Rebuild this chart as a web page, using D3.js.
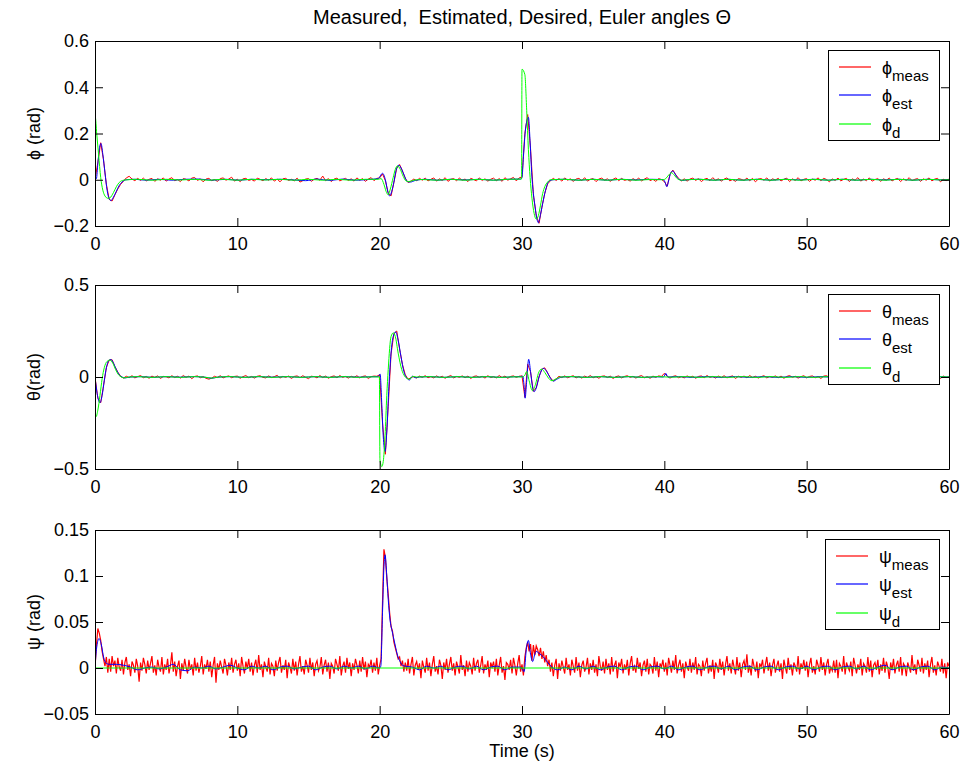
<!DOCTYPE html>
<html><head><meta charset="utf-8">
<script src="https://cdn.jsdelivr.net/npm/d3@7"></script>
<style>
body{margin:0;background:#fff;}
svg text{font-family:"Liberation Sans",Arial,Helvetica,sans-serif;fill:#000;}
</style></head><body>
<svg id="chart" width="964" height="769"></svg>
<script>
// ---------------- DATA ----------------
const timeTicks = [0, 10, 20, 30, 40, 50, 60];
const phiTicks = [-0.2, 0, 0.2, 0.4, 0.6];
const thetaTicks = [-0.5, 0, 0.5];
const psiTicks = [-0.05, 0, 0.05, 0.1, 0.15];
const legendSubs = ["meas", "est", "d"];
const titleText = "Measured,  Estimated, Desired, Euler angles \u0398";

// measured signals: sampled every phiMeasStep / thetaMeasStep / psiMeasStep seconds from t = 0
const phiMeasStep = 0.2;
const phiMeas = [
 0,0.075,0.16,0.085,-0.02,-0.085,-0.092,-0.065,-0.04,-0.02,
 -0.006,0.008,0.015,0.003,-0.004,0.006,-0.003,0.007,-0.005,0.002,
 0.006,-0.007,0.004,-0.002,0.008,-0.006,0.003,0.009,-0.004,0.001,
 -0.008,0.005,0.002,-0.005,0.007,0.01,-0.003,0.004,-0.009,0.003,
 0.006,-0.004,0.001,-0.007,0.005,0.008,-0.002,0.003,0.011,-0.006,
 0.002,-0.008,0.004,0.006,-0.003,0.001,-0.006,0.007,0.002,-0.004,
 0.005,-0.002,0.008,-0.006,0.003,-0.009,0.004,0.006,-0.003,0.002,
 -0.005,0.007,-0.01,-0.004,0.003,0.005,-0.007,0.002,0.006,-0.002,
 0.016,-0.004,0.005,-0.008,0.003,0.007,-0.005,0.001,0.006,-0.003,
 0.004,-0.006,0.008,-0.002,0.005,-0.007,0.003,0.009,-0.004,0.006,
 0.008,0.025,-0.004,-0.058,-0.07,-0.012,0.05,0.066,0.038,0.006,
 -0.012,-0.006,0.003,-0.004,0.006,-0.002,0.007,-0.005,0.002,0.008,
 -0.006,0.004,-0.003,0.009,-0.007,0.002,0.005,-0.004,0.007,-0.002,
 0.003,-0.008,0.006,0.001,-0.005,0.008,-0.003,0.004,-0.006,0.002,
 0.007,-0.004,0.005,-0.007,0.009,-0.002,0.004,0.01,-0.005,0.008,
 0.012,0.2,0.282,0.135,-0.065,-0.155,-0.188,-0.118,-0.058,-0.018,
 -0.004,0.006,-0.003,0.005,-0.006,0.008,-0.002,0.004,-0.007,0.003,
 0.006,-0.004,0.009,-0.006,0.002,0.005,-0.008,0.003,0.007,-0.002,
 0.004,-0.007,0.002,0.008,-0.004,0.006,-0.003,0.001,-0.006,0.005,
 -0.002,0.007,-0.005,0.003,0.009,-0.004,0.002,-0.007,0.005,0.001,
 -0.008,-0.028,0.024,0.042,0.022,0.006,-0.005,0.004,-0.006,0.003,
 0.007,-0.003,0.005,-0.008,0.002,0.006,-0.004,0.009,-0.002,0.004,
 -0.006,0.003,0.008,-0.005,0.001,-0.007,0.005,0.002,-0.003,0.007,
 -0.004,0.006,-0.009,0.003,0.005,-0.002,0.008,-0.006,0.004,-0.001,
 0.006,-0.005,0.002,0.007,-0.008,0.004,-0.003,0.009,-0.005,0.002,
 0.005,-0.007,0.003,-0.002,0.008,-0.004,0.006,0.001,-0.009,0.004,
 -0.003,0.007,-0.005,0.002,0.006,-0.008,0.004,-0.002,0.009,-0.006,
 0.003,-0.004,0.008,-0.006,0.001,0.005,-0.007,0.004,-0.002,0.007,
 -0.005,0.002,0.006,-0.008,0.004,-0.003,0.009,-0.004,0.002,0.005,
 -0.007,0.004,-0.002,0.008,-0.005,0.003,0.006,-0.009,0.002,-0.004,
 0.003
];
// estimated / desired: [time s, value rad]
const phiEst = [[0,0],[0.1,0.005],[0.2,0.07],[0.32,0.14],[0.42,0.157],[0.55,0.11],[0.7,0.03],[0.85,-0.045],[1.0,-0.083],[1.12,-0.09],[1.3,-0.075],[1.5,-0.05],[1.7,-0.025],[1.9,-0.01],[2.2,0],[2.8,0.002],[3.6,-0.002],[4.5,0.002],[5.4,-0.002],[6.3,0.002],[7.3,0.003],[8.2,-0.002],[9.2,0.002],[10.1,-0.002],[11.0,0.002],[12.0,0],[13.0,0.002],[14.0,-0.001],[14.8,-0.004],[15.6,0.003],[16.5,-0.003],[17.4,0.003],[18.3,-0.002],[19.2,0.001],[19.9,0.005],[20.2,0.028],[20.4,0],[20.55,-0.045],[20.7,-0.07],[20.85,-0.05],[21.0,-0.01],[21.15,0.04],[21.35,0.063],[21.55,0.045],[21.75,0.015],[21.95,-0.008],[22.15,-0.01],[22.5,-0.003],[23.2,0.002],[24.1,-0.002],[25.0,0.002],[26.0,-0.001],[27.0,0.002],[28.0,-0.002],[29.0,0.002],[29.9,0.003],[30.0,0.01],[30.1,0.1],[30.25,0.22],[30.45,0.27],[30.58,0.15],[30.68,0.03],[30.8,-0.06],[30.92,-0.117],[31.05,-0.17],[31.15,-0.186],[31.3,-0.15],[31.5,-0.088],[31.7,-0.035],[31.9,-0.005],[32.2,0],[33,0.002],[34,-0.002],[35,0.002],[36,-0.002],[37,0.002],[38,-0.001],[39,0.002],[39.9,0.001],[40.05,-0.01],[40.17,-0.03],[40.3,-0.005],[40.45,0.03],[40.6,0.038],[40.8,0.02],[41.0,0.003],[41.3,-0.003],[41.6,0],[42.5,0.002],[43.5,-0.002],[44.5,0.002],[45.5,-0.002],[46.5,0.002],[47.5,-0.002],[48.5,0.002],[49.5,-0.001],[50.5,0.002],[51.5,-0.002],[52.5,0.002],[53.5,-0.002],[54.5,0.002],[55.5,-0.001],[56.5,0.002],[57.5,-0.002],[58.5,0.002],[59.5,-0.001],[60,0]];
const phiD = [[0,0],[0.02,0.27],[0.12,0.2],[0.25,0.11],[0.4,0.01],[0.55,-0.045],[0.7,-0.07],[0.9,-0.08],[1.05,-0.078],[1.3,-0.055],[1.5,-0.03],[1.7,-0.012],[2.0,-0.002],[2.3,0],[3,0.002],[4,-0.002],[5,0.002],[6,-0.001],[7,0.002],[8,-0.002],[9,0.002],[10,-0.002],[11,0.002],[12,-0.001],[13,0.002],[14,-0.002],[15,0.002],[16,-0.002],[17,0.002],[18,-0.002],[19,0.002],[19.9,0.002],[20.1,0.005],[20.3,-0.02],[20.45,-0.05],[20.6,-0.065],[20.75,-0.04],[20.95,0.01],[21.1,0.045],[21.25,0.06],[21.45,0.045],[21.65,0.015],[21.85,-0.005],[22.05,-0.008],[22.4,-0.002],[23,0.001],[24,-0.002],[25,0.002],[26,-0.002],[27,0.002],[28,-0.002],[29,0.002],[29.97,0.003],[30.0,0.478],[30.2,0.455],[30.33,0.3],[30.45,0.13],[30.57,0.01],[30.7,-0.08],[30.85,-0.145],[31.0,-0.17],[31.15,-0.155],[31.3,-0.11],[31.45,-0.06],[31.6,-0.03],[31.8,-0.01],[32.0,0],[33,0.002],[34,-0.002],[35,0.002],[36,-0.002],[37,0.002],[38,-0.002],[39,0.001],[39.9,0],[40.1,0.005],[40.3,0.02],[40.5,0.03],[40.7,0.02],[40.9,0.005],[41.2,-0.002],[41.6,0],[42.5,0.002],[43.5,-0.002],[44.5,0.002],[45.5,-0.002],[46.5,0.002],[47.5,-0.002],[48.5,0.002],[49.5,-0.002],[50.5,0.002],[51.5,-0.002],[52.5,0.002],[53.5,-0.002],[54.5,0.002],[55.5,-0.002],[56.5,0.002],[57.5,-0.002],[58.5,0.002],[59.5,-0.001],[60,0]];

const thetaMeasStep = 0.2;
const thetaMeas = [
 0,-0.115,-0.14,-0.048,0.052,0.092,0.094,0.056,0.027,0.004,
 -0.006,0.004,-0.003,0.007,-0.005,0.002,0.008,-0.004,0.003,-0.007,
 0.005,-0.002,0.006,-0.008,0.003,0.001,-0.005,0.007,-0.003,0.004,
 -0.006,0.008,-0.002,0.005,-0.009,0.003,0.006,-0.004,0.002,-0.007,
 -0.012,-0.006,0.004,-0.003,0.007,-0.005,0.002,0.006,-0.004,0.003,
 0.005,-0.007,0.002,0.008,-0.004,0.003,-0.006,0.004,0.007,-0.002,
 -0.005,0.006,-0.003,0.002,0.009,-0.006,0.004,-0.002,0.005,-0.008,
 0.003,0.006,-0.004,0.007,-0.002,-0.009,0.004,0.002,-0.005,0.008,
 -0.003,0.005,-0.007,0.002,0.006,-0.004,0.008,-0.002,0.003,-0.006,
 0.004,-0.002,0.007,-0.005,0.003,0.006,-0.008,0.002,0.005,0.004,
 0.012,-0.25,-0.42,-0.16,0.125,0.235,0.25,0.152,0.068,0.012,
 -0.012,-0.004,0.003,-0.006,0.005,-0.002,0.007,-0.004,0.002,-0.005,
 0.006,-0.003,0.004,-0.007,0.002,0.008,-0.005,0.003,-0.002,0.006,
 -0.004,0.005,-0.008,0.003,0.006,-0.002,0.004,-0.006,0.007,-0.003,
 0.002,-0.005,0.008,-0.003,0.005,-0.007,0.003,0.006,-0.002,0.004,
 0.006,-0.11,0.07,0.028,-0.078,-0.058,0.004,0.042,0.05,0.022,
 -0.005,-0.022,-0.01,0.004,-0.003,0.006,-0.004,0.002,0.007,-0.005,
 0.003,-0.006,0.005,-0.002,0.008,-0.004,0.002,-0.007,0.004,0.006,
 -0.003,0.005,-0.008,0.002,0.006,-0.005,0.003,0.007,-0.002,0.004,
 -0.006,0.003,0.008,-0.004,0.002,-0.007,0.005,-0.002,0.006,0.003,
 0.02,0.004,-0.006,0.003,0.007,-0.004,0.002,-0.005,0.006,-0.002,
 0.004,-0.007,0.003,0.006,-0.004,0.008,-0.002,0.003,-0.006,0.005,
 -0.003,0.007,-0.005,0.002,0.006,-0.008,0.004,-0.002,0.005,-0.004,
 0.008,-0.003,0.004,-0.006,0.002,0.007,-0.005,0.003,-0.002,0.006,
 -0.004,0.005,-0.007,0.003,0.008,-0.002,0.004,-0.006,0.002,0.007,
 -0.005,0.003,0.006,-0.004,0.002,-0.008,0.005,0.007,-0.003,0.004,
 -0.006,0.002,0.008,-0.004,0.005,-0.002,0.006,-0.007,0.003,0.001,
 0.006,-0.005,0.003,0.007,-0.003,0.004,-0.008,0.002,0.006,-0.004,
 0.003,-0.006,0.007,-0.002,0.004,-0.005,0.008,-0.003,0.002,0.006,
 -0.004,0.005,-0.007,0.003,0.006,-0.002,0.004,-0.008,0.005,-0.003,
 0.002
];
const thetaEst = [[0,0],[0.15,-0.09],[0.35,-0.14],[0.5,-0.1],[0.65,-0.02],[0.8,0.05],[0.95,0.088],[1.12,0.095],[1.3,0.075],[1.5,0.04],[1.7,0.012],[1.9,0],[2.1,-0.005],[2.5,0],[3.2,0.002],[4.1,-0.002],[5.0,0.002],[6.0,-0.001],[7.0,0.002],[7.8,-0.002],[8.2,-0.007],[8.6,-0.001],[9.5,0.002],[10.5,-0.002],[11.5,0.002],[12.5,-0.001],[13.5,0.002],[14.5,-0.002],[15.5,0.002],[16.5,-0.002],[17.5,0.002],[18.5,-0.001],[19.4,0.001],[19.9,0.002],[20.03,0.016],[20.15,-0.15],[20.25,-0.32],[20.38,-0.405],[20.5,-0.3],[20.65,-0.05],[20.8,0.13],[20.95,0.22],[21.13,0.245],[21.3,0.2],[21.5,0.11],[21.7,0.03],[21.9,-0.005],[22.1,-0.016],[22.3,0.004],[22.5,-0.004],[22.8,0],[23.5,0.002],[24.5,-0.002],[25.5,0.002],[26.5,-0.002],[27.5,0.002],[28.5,-0.002],[29.4,0.001],[29.9,0.002],[30.05,0.005],[30.15,-0.05],[30.22,-0.115],[30.32,-0.03],[30.47,0.096],[30.6,0.03],[30.73,-0.05],[30.85,-0.08],[31.0,-0.06],[31.2,0],[31.5,0.047],[31.7,0.035],[31.95,0],[32.2,-0.022],[32.5,-0.01],[32.8,0],[33.5,0.002],[34.5,-0.002],[35.5,0.002],[36.5,-0.002],[37.5,0.002],[38.5,-0.002],[39.5,0.001],[39.95,0],[40.1,0.02],[40.25,0],[41,0.002],[42,-0.002],[43,0.002],[44,-0.002],[45,0.002],[46,-0.002],[47,0.002],[48,-0.002],[49,0.002],[50,-0.002],[51,0.002],[52,-0.002],[53,0.002],[54,-0.002],[55,0.002],[56,-0.002],[57,0.002],[58,-0.002],[59,0.002],[60,0]];
const thetaD = [[0,0],[0.03,-0.19],[0.08,-0.215],[0.2,-0.18],[0.35,-0.1],[0.5,-0.01],[0.65,0.05],[0.85,0.085],[1.05,0.092],[1.25,0.075],[1.45,0.04],[1.65,0.012],[1.85,0],[2.05,-0.005],[2.4,0],[3,0.002],[4,-0.002],[5,0.002],[6,-0.002],[7,0.002],[7.8,-0.002],[8.2,-0.006],[8.6,-0.001],[9.5,0.002],[10.5,-0.002],[11.5,0.002],[12.5,-0.002],[13.5,0.002],[14.5,-0.002],[15.5,0.002],[16.5,-0.002],[17.5,0.002],[18.5,-0.002],[19.5,0.001],[19.98,0],[20.02,-0.45],[20.15,-0.487],[20.25,-0.46],[20.38,-0.32],[20.5,-0.1],[20.6,0.04],[20.8,0.22],[20.96,0.24],[21.1,0.22],[21.3,0.13],[21.55,0.04],[21.75,0.005],[21.9,-0.007],[22.1,-0.012],[22.3,0.003],[22.6,0],[23.5,0.002],[24.5,-0.002],[25.5,0.002],[26.5,-0.002],[27.5,0.002],[28.5,-0.002],[29.5,0.001],[30.0,0],[30.2,0.01],[30.33,0.03],[30.5,-0.02],[30.73,-0.074],[30.95,-0.04],[31.15,0.02],[31.38,0.043],[31.6,0.025],[31.85,-0.005],[32.1,-0.02],[32.4,-0.01],[32.7,0],[33.5,0.002],[34.5,-0.002],[35.5,0.002],[36.5,-0.002],[37.5,0.002],[38.5,-0.002],[39.5,0.002],[40.5,-0.001],[41.5,0.002],[42.5,-0.002],[43.5,0.002],[44.5,-0.002],[45.5,0.002],[46.5,-0.002],[47.5,0.002],[48.5,-0.002],[49.5,0.002],[50.5,-0.002],[51.5,0.002],[52.5,-0.002],[53.5,0.002],[54.5,-0.002],[55.5,0.002],[56.5,-0.002],[57.5,0.002],[58.5,-0.002],[59.5,0.001],[60,0]];

const psiMeasStep = 0.1;
const psiMeas = [
 0,0.025,0.043,0.038,0.03,0.018,0.01,0.002,0.012,-0.005,
 0.01,-0.004,0.013,0.002,0.008,-0.006,0.011,0.001,-0.003,0.009,
 -0.007,0.006,0.012,-0.002,0.004,-0.009,0.007,0.003,-0.005,0.01,
 0.002,-0.015,0.006,-0.003,0.011,0.004,-0.006,0.008,-0.002,0.005,
 0.013,-0.005,0.003,-0.008,0.009,0.001,-0.004,0.012,-0.007,0.004,
 -0.002,0.01,-0.006,0.003,0.017,-0.004,0.007,-0.009,0.002,0.008,
 -0.012,0.005,-0.003,0.01,0.001,-0.006,0.009,-0.002,0.004,-0.008,
 0.011,-0.003,0.006,-0.005,0.002,0.013,-0.007,0.004,-0.001,0.009,
 -0.004,0.007,-0.01,0.003,0.012,-0.016,0.005,-0.002,0.008,0.001,
 -0.006,0.01,0.003,-0.008,0.006,-0.002,0.011,-0.005,0.004,0.009,
 -0.003,0.005,-0.009,0.012,0.002,-0.006,0.007,-0.001,0.01,-0.004,
 0.006,-0.008,0.003,0.009,-0.005,0.014,-0.002,0.004,-0.01,0.007,
 0.001,-0.004,0.011,-0.007,0.005,0.002,-0.009,0.008,-0.003,0.006,
 0.012,-0.005,0.003,-0.002,0.009,-0.011,0.006,0.001,-0.006,0.01,
 -0.003,0.007,-0.008,0.004,0.013,-0.004,0.002,-0.007,0.009,0.003,
 -0.005,0.011,-0.002,0.006,-0.009,0.004,0.008,-0.003,0.001,0.012,
 -0.007,0.003,0.009,-0.004,0.006,-0.012,0.005,0.002,-0.006,0.01,
 0.004,-0.003,0.013,-0.008,0.002,0.007,-0.005,0.011,-0.001,0.006,
 -0.009,0.005,-0.002,0.01,0.003,-0.006,0.008,-0.004,0.012,-0.002,
 0.007,-0.01,0.004,0.001,0.009,-0.005,0.006,-0.003,0.011,-0.007,
 0.003,0.01,0.07,0.129,0.12,0.098,0.08,0.06,0.045,0.04,
 0.028,0.022,0.016,0.01,0.012,0.002,0.008,-0.004,0.006,-0.003,
 0.01,-0.006,0.004,0.012,-0.008,0.003,0.007,-0.002,0.005,-0.011,
 0.008,0.001,-0.005,0.011,-0.003,0.006,-0.009,0.004,0.013,-0.004,
 0.002,-0.007,0.009,0.003,-0.012,0.006,-0.002,0.01,-0.005,0.004,
 0.012,-0.003,0.005,-0.008,0.007,0.001,-0.006,0.014,-0.002,0.003,
 -0.009,0.008,-0.004,0.006,0.002,-0.007,0.011,-0.003,0.005,0.009,
 -0.005,0.003,0.013,-0.006,0.004,-0.002,0.008,-0.01,0.006,0.001,
 0.007,-0.004,0.01,-0.008,0.003,0.012,-0.005,0.002,-0.013,0.006,
 0.004,-0.002,0.009,-0.006,0.011,0.003,-0.008,0.005,0.014,-0.004,
 0.004,-0.008,0.012,0.022,0.028,0.018,0.026,0.008,0.025,0.014,
 0.024,0.02,0.013,0.022,0.01,0.018,0.006,0.014,0.002,0.009,
 -0.004,0.006,-0.009,0.003,0.01,-0.012,0.005,-0.003,0.008,0.001,
 -0.006,0.011,-0.002,0.004,-0.008,0.009,0.002,-0.005,0.012,-0.003,
 0.006,-0.01,0.003,0.008,-0.004,0.001,0.011,-0.007,0.005,-0.002,
 0.009,-0.005,0.004,-0.009,0.013,0.002,-0.003,0.007,-0.006,0.01,
 -0.002,0.005,-0.007,0.012,-0.004,0.003,0.008,-0.011,0.006,0.001,
 0.01,-0.006,0.004,-0.002,0.009,-0.008,0.005,0.013,-0.003,0.002,
 -0.005,0.011,-0.001,0.006,-0.009,0.003,0.008,-0.004,0.01,-0.007,
 0.004,0.002,-0.006,0.012,-0.003,0.007,-0.01,0.005,0.001,0.009,
 -0.004,0.006,-0.008,0.011,0.003,-0.005,0.008,-0.002,0.014,-0.006,
 0.003,0.009,-0.004,0.005,-0.011,0.007,0.001,-0.003,0.01,-0.005,
 0.006,-0.002,0.012,-0.007,0.004,0.002,-0.009,0.008,-0.003,0.005,
 0.011,-0.006,0.003,-0.004,0.009,-0.012,0.006,0.002,-0.005,0.01,
 -0.002,0.007,-0.008,0.004,0.013,-0.003,0.005,-0.006,0.009,0.001,
 -0.007,0.012,-0.003,0.006,-0.01,0.004,0.008,-0.002,0.015,-0.005,
 0.003,-0.008,0.01,0.002,-0.004,0.007,-0.011,0.005,0.001,0.009,
 -0.006,0.004,0.012,-0.003,0.006,-0.009,0.003,0.01,-0.005,0.002,
 0.008,-0.004,0.005,-0.012,0.009,0.001,-0.006,0.011,-0.002,0.004,
 -0.008,0.006,0.002,-0.004,0.013,-0.007,0.005,-0.001,0.009,-0.003,
 0.007,-0.01,0.004,0.011,-0.005,0.002,-0.007,0.009,0.003,-0.004,
 0.012,-0.002,0.006,-0.008,0.004,0.01,-0.006,0.001,-0.003,0.008,
 -0.005,0.009,-0.011,0.005,0.002,-0.004,0.013,-0.007,0.006,0.001,
 -0.003,0.007,-0.009,0.011,0.003,-0.006,0.004,-0.002,0.01,-0.008,
 0.005,0.002,-0.005,0.012,-0.004,0.008,-0.01,0.003,0.006,-0.002,
 0.009,-0.007,0.004,-0.003,0.011,-0.005,0.007,0.001,-0.012,0.006,
 -0.002,0.01,-0.006,0.003,0.008,-0.004,0.012,-0.008,0.005,0.002,
 -0.009,0.006,0.001,-0.005,0.014,-0.003,0.004,-0.007,0.009,0.003,
 -0.004,0.011,-0.006,0.005,-0.002,0.008,-0.01,0.004,0.012,-0.005,
 0.003,-0.008,0.007,0.002,-0.004,0.01,-0.006,0.005,-0.011,0.006,
 0.002
];
const psiEst = [[0,0],[0.1,0.02],[0.28,0.032],[0.45,0.025],[0.6,0.012],[0.8,0.005],[1.0,0.004],[1.5,0.004],[2.0,0.003],[2.5,0.001],[3.0,-0.002],[3.5,0],[4.0,0.001],[4.5,-0.001],[5.0,0.001],[5.5,0.004],[6.0,-0.002],[6.5,-0.003],[7.0,0.001],[7.5,0],[8.0,0.002],[8.5,-0.001],[9.0,0.001],[9.5,0.003],[10,0],[10.5,-0.002],[11,0.002],[11.5,0],[12,0.002],[12.5,-0.002],[13,0.001],[13.5,0.002],[14,-0.001],[14.5,0.001],[15,0.002],[15.5,-0.002],[16,0.001],[16.5,0.002],[17,-0.001],[17.5,0.002],[18,0],[18.5,0.002],[19,-0.001],[19.5,0.002],[20.0,0],[20.08,0.002],[20.2,0.06],[20.3,0.11],[20.38,0.123],[20.5,0.1],[20.6,0.075],[20.73,0.052],[20.85,0.042],[20.96,0.034],[21.1,0.024],[21.25,0.014],[21.43,0.007],[21.6,0.003],[21.8,0.002],[22.3,0.001],[22.8,-0.002],[23.3,0.002],[23.8,0],[24.3,0.002],[24.8,-0.002],[25.3,0.001],[25.8,0.002],[26.3,-0.001],[26.8,0.002],[27.3,-0.002],[27.8,0.001],[28.3,0.002],[28.8,-0.002],[29.3,0.001],[29.9,0.001],[30.15,-0.004],[30.3,0.02],[30.45,0.03],[30.6,0.015],[30.75,0.007],[30.9,0.015],[31.0,0.018],[31.2,0.016],[31.5,0.012],[31.8,0.006],[32.1,0.001],[32.5,-0.002],[33,0.001],[33.5,-0.002],[34,0.002],[34.5,-0.001],[35,0.002],[35.5,-0.002],[36,0.001],[36.5,0.002],[37,-0.002],[37.5,0.001],[38,0.002],[38.5,-0.002],[39,0.001],[39.5,0.002],[40,-0.001],[40.5,0.002],[41,-0.002],[41.5,0.001],[42,0.002],[42.5,-0.002],[43,0.001],[43.5,0.002],[44,-0.001],[44.5,0.002],[45,-0.002],[45.5,0.001],[46,0.002],[46.5,-0.002],[47,0.001],[47.5,0.002],[48,-0.002],[48.5,0.001],[49,0.002],[49.5,-0.001],[50,0.002],[50.5,-0.002],[51,0.001],[51.5,0.002],[52,-0.002],[52.5,0.001],[53,0.002],[53.5,-0.001],[54,0.002],[54.5,-0.002],[55,0.001],[55.5,0.003],[56,-0.002],[56.5,0.001],[57,0.002],[57.5,-0.002],[58,0.001],[58.5,0.002],[59,-0.002],[59.5,0.001],[60,0]];
const psiD = [[0,0],[60,0]];

// ---------------- DRAWING ----------------
const svg = d3.select("#chart");
const FONT = "'Liberation Sans', Arial, Helvetica, sans-serif";
const plotLeft = 95, plotRight = 949;
const panels = [
  {sym:"\u03d5", ylabel:"\u03d5 (rad)", top:41,  bottom:226, domain:[-0.2,0.6],  ticks:phiTicks,
   meas:phiMeas, step:phiMeasStep, est:phiEst, des:phiD, measW:1},
  {sym:"\u03b8", ylabel:"\u03b8(rad)",  top:285, bottom:469, domain:[-0.5,0.5],  ticks:thetaTicks,
   meas:thetaMeas, step:thetaMeasStep, est:thetaEst, des:thetaD, measW:1},
  {sym:"\u03c8", ylabel:"\u03c8 (rad)", top:530, bottom:714, domain:[-0.05,0.15], ticks:psiTicks,
   meas:psiMeas, step:psiMeasStep, est:psiEst, des:psiD, measW:1.2}
];
const colors = ["#ff0000", "#0000ff", "#00ff00"];
const x = d3.scaleLinear().domain([0, 60]).range([plotLeft, plotRight]);
const yFmt = d => d === 0 ? "0" : d3.format("")(d);

function styleAxis(g) {
  g.attr("font-size", 18).attr("font-family", FONT);
  g.selectAll(".domain").attr("stroke", "#000").attr("stroke-width", 1);
  g.selectAll(".tick line").attr("stroke", "#000").attr("stroke-width", 1);
  g.selectAll(".tick text").attr("fill", "#000");
}

panels.forEach((p, pi) => {
  const y = d3.scaleLinear().domain(p.domain).range([p.bottom, p.top]);
  const g = svg.append("g");

  const clipId = "clip" + pi;
  svg.append("clipPath").attr("id", clipId).append("rect")
    .attr("x", plotLeft).attr("y", p.top).attr("width", plotRight - plotLeft).attr("height", p.bottom - p.top);

  const data = g.append("g").attr("clip-path", `url(#${clipId})`);
  const lineLin = d3.line().x(d => x(d[0])).y(d => y(d[1]));
  const lineSmooth = d3.line().x(d => x(d[0])).y(d => y(d[1])).curve(d3.curveMonotoneX);
  const measPts = p.meas.map((v, i) => [i * p.step, v]);

  data.append("path").datum(measPts).attr("d", lineLin)
    .attr("fill", "none").attr("stroke", colors[0]).attr("stroke-width", p.measW);
  data.append("path").datum(p.est).attr("d", lineSmooth)
    .attr("fill", "none").attr("stroke", colors[1]).attr("stroke-width", 1);
  data.append("path").datum(p.des).attr("d", lineSmooth)
    .attr("fill", "none").attr("stroke", colors[2]).attr("stroke-width", 1);

  // axes (MATLAB-style box with inward ticks)
  g.append("g").attr("transform", `translate(0,${p.bottom})`)
    .call(d3.axisBottom(x).tickValues(timeTicks).tickSizeInner(-8).tickSizeOuter(0).tickPadding(11).tickFormat(d3.format("d")))
    .call(styleAxis);
  g.append("g").attr("transform", `translate(0,${p.top})`)
    .call(d3.axisTop(x).tickValues(timeTicks).tickSizeInner(-8).tickSizeOuter(0).tickFormat(""))
    .call(styleAxis);
  g.append("g").attr("transform", `translate(${plotLeft},0)`)
    .call(d3.axisLeft(y).tickValues(p.ticks).tickSizeInner(-8).tickSizeOuter(0).tickPadding(6).tickFormat(yFmt))
    .call(styleAxis);
  g.append("g").attr("transform", `translate(${plotRight},0)`)
    .call(d3.axisRight(y).tickValues(p.ticks).tickSizeInner(-8).tickSizeOuter(0).tickFormat(""))
    .call(styleAxis);

  // y label
  svg.append("text")
    .attr("transform", `translate(40,${(p.top + p.bottom) / 2}) rotate(-90)`)
    .attr("text-anchor", "middle").attr("font-size", 18).attr("font-family", FONT)
    .text(p.ylabel);

  // legend
  const lg = svg.append("g");
  const rowGap = 28.7;
  const lgTop = p.top + 9;
  const box = lg.append("rect").attr("fill", "#fff").attr("stroke", "#000").attr("stroke-width", 1);
  const texts = [];
  legendSubs.forEach((s, i) => {
    const ly = Math.round(lgTop + 16.5 + i * rowGap);
    const ln = lg.append("line").attr("y1", ly).attr("y2", ly)
      .attr("stroke", colors[i]).attr("stroke-width", 1.2);
    const t = lg.append("text").attr("y", ly + 6.5).attr("font-size", 18).attr("font-family", FONT);
    t.append("tspan").text(p.sym);
    t.append("tspan").attr("font-size", 15).attr("dy", 7).text(s);
    texts.push({ln, t});
  });
  const maxW = d3.max(texts, o => o.t.node().getComputedTextLength());
  const boxW = Math.round(54 + maxW + 10);
  const lgLeft = plotRight - 10 - boxW;
  box.attr("x", lgLeft + 0.5).attr("y", lgTop + 0.5).attr("width", boxW).attr("height", 90);
  texts.forEach(o => {
    o.ln.attr("x1", lgLeft + 11).attr("x2", lgLeft + 43);
    o.t.attr("x", lgLeft + 54);
  });
});

// title & x label
svg.append("text").attr("x", (plotLeft + plotRight) / 2).attr("y", 24)
  .attr("text-anchor", "middle").attr("font-size", 20).attr("font-family", FONT)
  .style("white-space", "pre").text(titleText);
svg.append("text").attr("x", (plotLeft + plotRight) / 2).attr("y", 757)
  .attr("text-anchor", "middle").attr("font-size", 18).attr("font-family", FONT)
  .text("Time (s)");
</script>
</body></html>
